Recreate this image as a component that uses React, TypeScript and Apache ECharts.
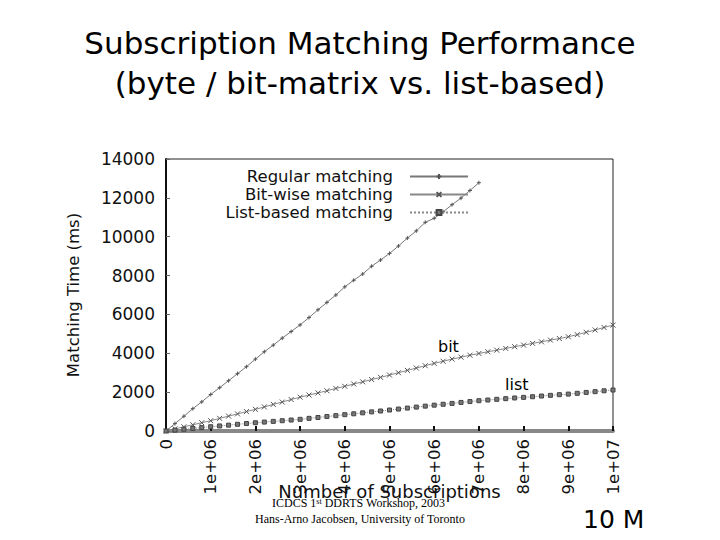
import React, { useEffect, useRef } from "react";
import * as echarts from "echarts";

const titleLines = ["Subscription Matching Performance", "(byte / bit-matrix vs. list-based)"];
const seriesNames = ["Regular matching", "Bit-wise matching", "List-based matching"];

// subscriptions (x) for the regular run, up to 7 million
const regularSubs = [
  0, 200000, 400000, 600000, 800000, 1000000, 1200000, 1400000, 1600000, 1800000,
  2000000, 2200000, 2400000, 2600000, 2800000, 3000000, 3200000, 3400000, 3600000, 3800000,
  4000000, 4200000, 4400000, 4600000, 4800000, 5000000, 5200000, 5400000, 5600000, 5800000,
  6000000, 6200000, 6400000, 6600000, 6800000, 7000000,
];
const regularMs = [
  0, 380, 760, 1150, 1500, 1880, 2230, 2590, 2950, 3310,
  3700, 4080, 4420, 4780, 5120, 5460, 5840, 6240, 6620, 7000,
  7420, 7760, 8080, 8480, 8800, 9140, 9520, 9930, 10300, 10740,
  10950, 11280, 11650, 11990, 12380, 12780,
];

// subscriptions (x) for the bit-wise and list-based runs, up to 10 million
const fullSubs = [
  0, 200000, 400000, 600000, 800000, 1000000, 1200000, 1400000, 1600000, 1800000,
  2000000, 2200000, 2400000, 2600000, 2800000, 3000000, 3200000, 3400000, 3600000, 3800000,
  4000000, 4200000, 4400000, 4600000, 4800000, 5000000, 5200000, 5400000, 5600000, 5800000,
  6000000, 6200000, 6400000, 6600000, 6800000, 7000000, 7200000, 7400000, 7600000, 7800000,
  8000000, 8200000, 8400000, 8600000, 8800000, 9000000, 9200000, 9400000, 9600000, 9800000,
  10000000,
];
const bitMs = [
  0, 110, 215, 320, 425, 530, 650, 765, 880, 1000,
  1115, 1240, 1370, 1490, 1620, 1740, 1850, 1960, 2070, 2190,
  2300, 2420, 2530, 2650, 2760, 2880, 3000, 3120, 3240, 3360,
  3480, 3590, 3700, 3800, 3900, 3990, 4080, 4160, 4250, 4340,
  4420, 4510, 4590, 4680, 4760, 4850, 4960, 5080, 5200, 5330,
  5450,
];
const listMs = [
  0, 45, 90, 130, 175, 220, 260, 300, 345, 385,
  425, 460, 495, 530, 565, 600, 650, 695, 745, 790,
  840, 885, 935, 985, 1030, 1080, 1130, 1180, 1230, 1280,
  1330, 1375, 1420, 1470, 1515, 1560, 1595, 1630, 1665, 1700,
  1730, 1765, 1800, 1835, 1870, 1900, 1940, 1985, 2025, 2070,
  2110,
];

const yTicks = [0, 2000, 4000, 6000, 8000, 10000, 12000, 14000];

const pair = (xs: number[], ys: number[]) => xs.map((x, i) => [x, ys[i]]);

const plusSym = "path://M0,5L10,5M5,0L5,10";
const crossSym = "path://M1,1L9,9M9,1L1,9";

function fmtX(v: number) {
  if (v === 0) return "0";
  const e = Math.floor(Math.log10(v) + 1e-9);
  const m = Math.round(v / Math.pow(10, e));
  return `${m}e+${e < 10 ? "0" + e : e}`;
}

export default function App() {
  const ref = useRef<HTMLDivElement>(null);
  useEffect(() => {
    if (!ref.current) return;
    const chart = echarts.init(ref.current, undefined, { renderer: "svg" });
    const sans = "DejaVu Sans";
    chart.setOption({
      animation: false,
      backgroundColor: "#ffffff",
      grid: {
        left: 166,
        right: 107,
        top: 159,
        bottom: 109,
        show: true,
        borderColor: "#222",
        borderWidth: 1,
      },
      legend: {
        orient: "vertical",
        right: 246,
        top: 163,
        align: "right",
        itemGap: 1,
        itemWidth: 58,
        itemHeight: 6,
        textStyle: { fontFamily: sans, fontSize: 16.5, color: "#111", padding: [0, 12, 0, 0] },
        data: seriesNames,
      },
      xAxis: {
        type: "value",
        min: 0,
        max: 10000000,
        interval: 1000000,
        name: "Number of Subscriptions",
        nameLocation: "middle",
        nameGap: 51,
        nameMoveOverlap: false,
        nameTextStyle: { fontFamily: sans, fontSize: 18, color: "#111" },
        axisLine: { show: true, onZero: false, lineStyle: { color: "#888", width: 4 } },
        axisTick: { show: true, inside: true, length: 5, lineStyle: { color: "#111", width: 2 } },
        axisLabel: {
          rotate: 90,
          fontFamily: sans,
          fontSize: 16.5,
          color: "#111",
          margin: 8,
          formatter: (v: number) => fmtX(v),
        },
        splitLine: { show: false },
      },
      yAxis: {
        type: "value",
        min: 0,
        max: 14000,
        interval: 2000,
        name: "Matching Time (ms)",
        nameLocation: "middle",
        nameGap: 84,
        nameMoveOverlap: false,
        nameTextStyle: { fontFamily: sans, fontSize: 16.5, color: "#111" },
        axisLine: { show: true, lineStyle: { color: "#111", width: 2 } },
        axisTick: { show: true, inside: true, length: 4, lineStyle: { color: "#666" } },
        axisLabel: {
          fontFamily: sans,
          fontSize: 17,
          color: "#111",
          margin: 11,
          formatter: (v: number) => (yTicks.includes(v) ? String(v) : ""),
        },
        splitLine: { show: false },
      },
      series: [
        {
          name: seriesNames[0],
          type: "line",
          data: pair(regularSubs, regularMs),
          symbol: plusSym,
          symbolSize: 4,
          showAllSymbol: true,
          lineStyle: { color: "#777", width: 1 },
          itemStyle: { color: "#555", borderColor: "#555", borderWidth: 1 },
        },
        {
          name: seriesNames[1],
          type: "line",
          data: pair(fullSubs, bitMs),
          symbol: crossSym,
          symbolSize: 5,
          showAllSymbol: true,
          lineStyle: { color: "#888", width: 1 },
          itemStyle: { color: "#555", borderColor: "#555", borderWidth: 1 },
        },
        {
          name: seriesNames[2],
          type: "line",
          data: pair(fullSubs, listMs),
          symbol: "rect",
          symbolSize: 4,
          showAllSymbol: true,
          lineStyle: { color: "#888", width: 1, type: "dotted" },
          itemStyle: { color: "#777", borderColor: "#444", borderWidth: 1 },
        },
      ],
      graphic: [
        {
          type: "text",
          left: "center",
          top: 27,
          style: { text: titleLines[0], fontFamily: sans, fontSize: 31, fill: "#000" },
        },
        {
          type: "text",
          left: "center",
          top: 67,
          style: { text: titleLines[1], fontFamily: sans, fontSize: 31, fill: "#000" },
        },
        {
          type: "text",
          x: 438,
          y: 338,
          style: { text: "bit", fontFamily: sans, fontSize: 16, fill: "#000" },
        },
        {
          type: "text",
          x: 505,
          y: 376,
          style: { text: "list", fontFamily: sans, fontSize: 16, fill: "#000" },
        },
        {
          type: "text",
          x: 272,
          y: 497,
          style: {
            text: "ICDCS 1{s|st} DDRTS Workshop, 2003",
            fontFamily: "Liberation Serif",
            fontSize: 12,
            fill: "#000",
            rich: { s: { fontFamily: "Liberation Serif", fontSize: 8, verticalAlign: "top", fill: "#000" } },
          },
        },
        {
          type: "text",
          x: 255,
          y: 513,
          style: { text: "Hans-Arno Jacobsen, University of Toronto", fontFamily: "Liberation Serif", fontSize: 12, fill: "#000" },
        },
        {
          type: "text",
          x: 583,
          y: 507,
          style: { text: "10 M", fontFamily: sans, fontSize: 25, fill: "#000" },
        },
      ],
    });
    return () => chart.dispose();
  }, []);
  return <div ref={ref} style={{ width: 720, height: 540, position: "absolute", left: 0, top: 0 }} />;
}
